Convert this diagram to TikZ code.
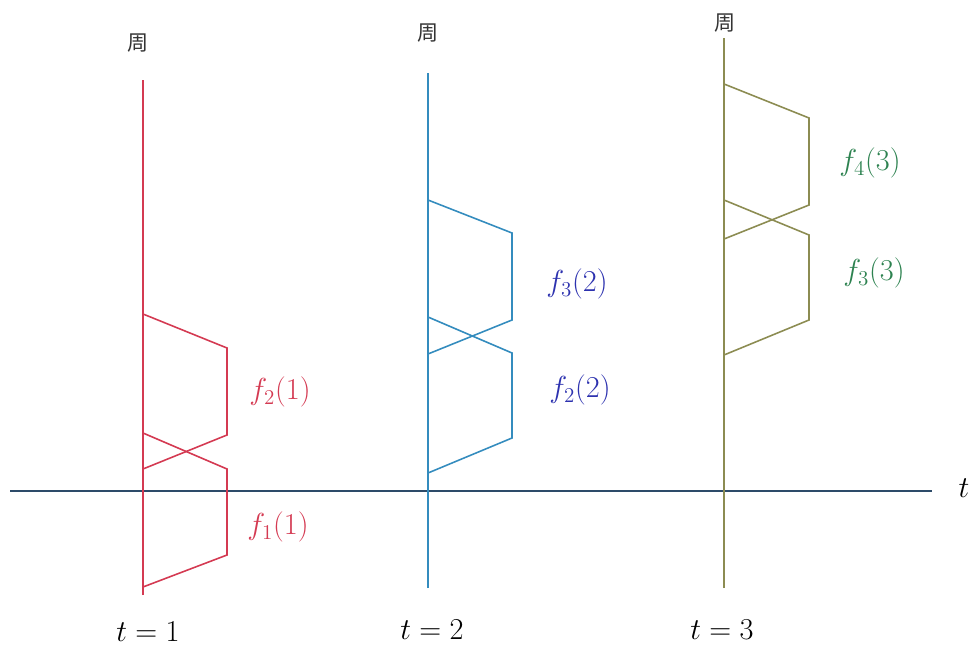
\documentclass[tikz,border=0pt]{standalone}
\usepackage{fontspec}
\newfontfamily\cjk{Noto Sans CJK SC}
\usepackage{tikz}
\usetikzlibrary{positioning}
\definecolor{lred}{RGB}{212,58,82}
\definecolor{lblue}{RGB}{52,140,190}
\definecolor{tblue}{RGB}{45,50,175}
\definecolor{lolive}{RGB}{140,140,82}
\definecolor{tgreen}{RGB}{45,130,80}
\definecolor{axc}{RGB}{45,75,105}
\tikzset{
  axis/.style={draw=axc,line width=0.9pt},
  rl/.style={draw=lred,line width=0.9pt},
  bl/.style={draw=lblue,line width=0.9pt},
  gl/.style={draw=lolive,line width=0.9pt},
  flab/.style={font=\LARGE,inner sep=1pt},
  tlab/.style={font=\LARGE,inner sep=1pt},
  wk/.style={font=\cjk\large,inner sep=1pt,text=black!80}
}
\begin{document}
\begin{tikzpicture}[x=0.02cm,y=0.02cm]
\useasboundingbox (0,0) rectangle (974,650);
% time axis
\coordinate (ax0) at (10,159);
\coordinate (ax1) at (932,159);
\draw[axis] (ax0) -- (ax1);
\node[tlab] (tt) at (964,162) {$t$};
% t=1
\coordinate (r0) at (143,55);
\coordinate (r1) at (143,570);
\draw[rl] (r0) -- (r1);
\draw[rl] (143,336) -- (227,302) -- (227,215) -- (143,181);
\draw[rl] (143,217) -- (227,181) -- (227,95) -- (143,63);
\node[flab,text=lred] (f21) at (280,258) {$f_2(1)$};
\node[flab,text=lred] (f11) at (278,123) {$f_1(1)$};
\node[wk] (w1) at (138,607) {周};
\node[tlab] (t1) at (148,18) {$t=1$};
% t=2
\coordinate (b0) at (428,62);
\coordinate (b1) at (428,577);
\draw[bl] (b0) -- (b1);
\draw[bl] (428,450) -- (512,417) -- (512,330) -- (428,296);
\draw[bl] (428,333) -- (512,297) -- (512,212) -- (428,177);
\node[flab,text=tblue] (f32) at (577,366) {$f_3(2)$};
\node[flab,text=tblue] (f22) at (580,260) {$f_2(2)$};
\node[wk] (w2) at (428,617) {周};
\node[tlab] (t2) at (432,20) {$t=2$};
% t=3
\coordinate (g0) at (724,62);
\coordinate (g1) at (724,612);
\draw[gl] (g0) -- (g1);
\draw[gl] (724,566) -- (809,532) -- (809,445) -- (724,411);
\draw[gl] (724,450) -- (809,415) -- (809,330) -- (724,295);
\node[flab,text=tgreen] (f43) at (870,487) {$f_4(3)$};
\node[flab,text=tgreen] (f33) at (874,377) {$f_3(3)$};
\node[wk] (w3) at (725,627) {周};
\node[tlab] (t3) at (722,20) {$t=3$};
\end{tikzpicture}
\end{document}
